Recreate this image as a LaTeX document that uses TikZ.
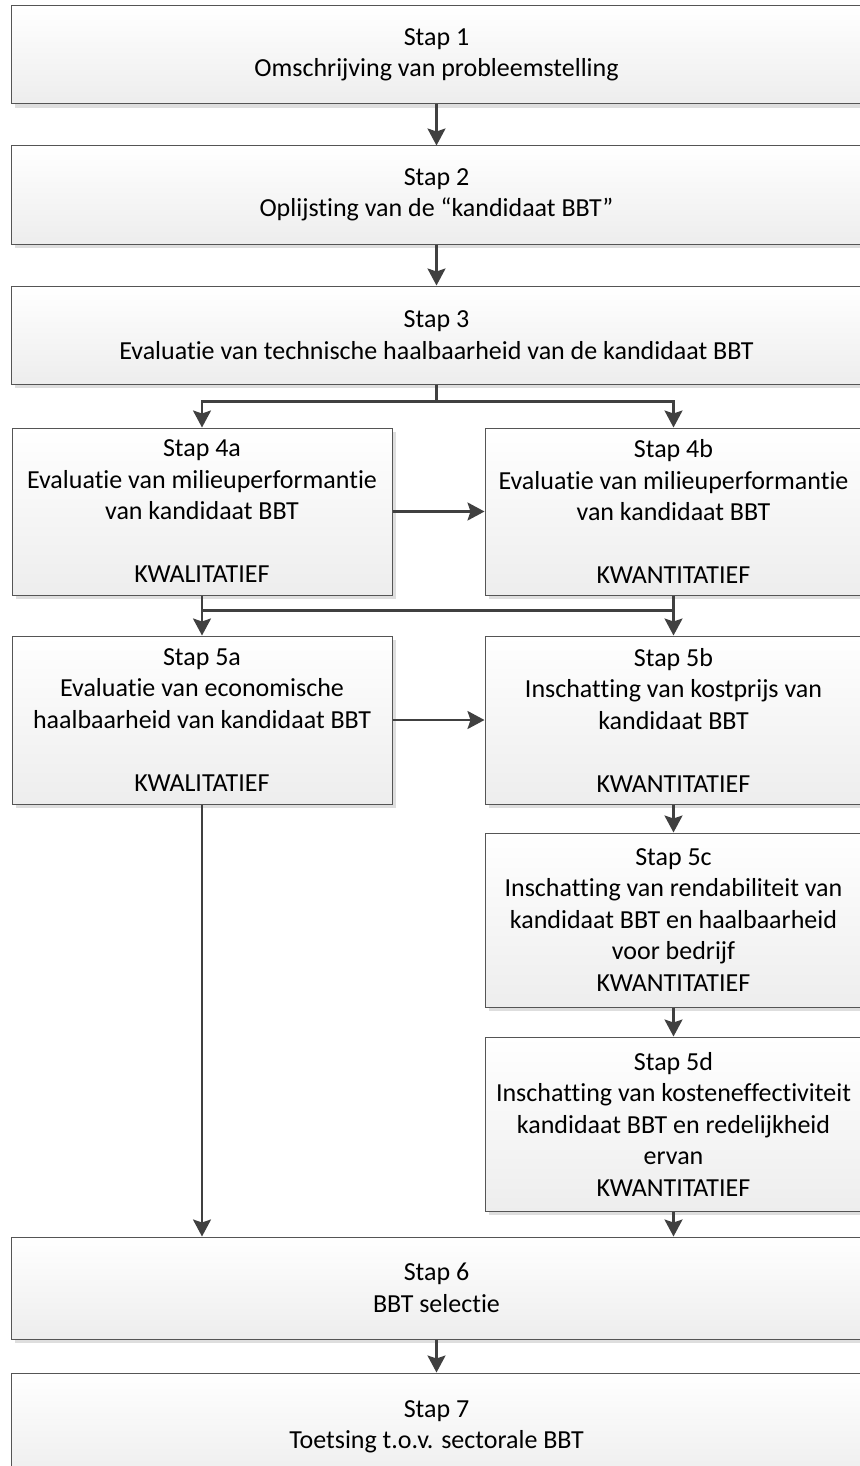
\documentclass[tikz,border=0pt]{standalone}
\usepackage{fontspec}
\setmainfont{Carlito}[Ligatures=CommonOff]
\usetikzlibrary{arrows.meta,shadows,calc}
\definecolor{bordc}{RGB}{85,85,85}
\definecolor{arrc}{RGB}{64,64,64}
\definecolor{shadc}{RGB}{222,222,222}
\begin{document}
\begin{tikzpicture}[x=1pt,y=-1pt,
  box/.style={draw=bordc, line width=1pt, top color=white, bottom color=black!7,
    drop shadow={shadow xshift=4pt, shadow yshift=-4pt, fill=shadc, opacity=1},
    inner sep=0pt, align=center, font=\fontsize{26}{31.5}\selectfont},
  wide/.style={box, minimum width=851pt},
  side/.style={box, minimum width=380pt},
  arr/.style={draw=arrc, line width=2.4pt, -{Stealth[length=17pt,width=18pt,inset=3pt]}},
  ln/.style={draw=arrc, line width=2.4pt}]
\useasboundingbox (0,0) rectangle (859,1466);
\node[wide, minimum height=98pt] (b1) at (436.5,55) {Stap 1\\Omschrijving van probleemstelling};
\node[wide, minimum height=98pt] (b2) at (436.5,195) {Stap 2\\Oplijsting van de “kandidaat BBT”};
\node[wide, minimum height=98pt] (b3) at (436.5,335) {Stap 3\\Evaluatie van technische haalbaarheid van de kandidaat BBT};
\node[side, minimum height=167pt] (b4a) at (202,511.5) {Stap 4a\\Evaluatie van milieuperformantie\\van kandidaat BBT\\[31.5pt]KWALITATIEF};
\node[side, minimum width=377pt, minimum height=167pt] (b4b) at (673.5,511.5) {Stap 4b\\Evaluatie van milieuperformantie\\van kandidaat BBT\\[31.5pt]KWANTITATIEF};
\node[side, minimum height=168pt] (b5a) at (202,720) {Stap 5a\\Evaluatie van economische\\haalbaarheid van kandidaat BBT\\[31.5pt]KWALITATIEF};
\node[side, minimum width=377pt, minimum height=168pt] (b5b) at (673.5,720) {Stap 5b\\Inschatting van kostprijs van\\kandidaat BBT\\[31.5pt]KWANTITATIEF};
\node[side, minimum width=377pt, minimum height=174pt] (b5c) at (673.5,920) {Stap 5c\\Inschatting van rendabiliteit van\\kandidaat BBT en haalbaarheid\\voor bedrijf\\KWANTITATIEF};
\node[side, minimum width=377pt, minimum height=174pt] (b5d) at (673.5,1124) {Stap 5d\\Inschatting van kosteneffectiviteit\\kandidaat BBT en redelijkheid\\ervan\\KWANTITATIEF};
\node[wide, minimum height=102pt] (b6) at (436.5,1288) {Stap 6\\BBT selectie};
\node[wide, minimum height=108pt] (b7) at (436.5,1427) {Stap 7\\Toetsing t.o.v. sectorale BBT};
% connectors
\draw[arr] (b1) -- (b2);
\draw[arr] (b2) -- (b3);
\draw[ln] (b3.south) -- ++(0,17) coordinate (j3);
\draw[arr] (j3) -| (b4a.north);
\draw[arr] (j3) -| (b4b.north);
\draw[arr] (b4a) -- (b4b);
\coordinate (j4a) at ($(b4a.south)+(0,15)$);
\coordinate (j4b) at ($(b4b.south)+(0,15)$);
\draw[arr] (b4a.south) -- (b5a.north);
\draw[arr] (b4b.south) -- (b5b.north);
\draw[ln] (j4a) -- (j4b);
\draw[arr] (b5a) -- (b5b);
\draw[arr] (b5b) -- (b5c);
\draw[arr] (b5c) -- (b5d);
\draw[arr] (b5a.south) -- (b5a.south |- b6.north);
\draw[arr] (b5d.south) -- (b5d.south |- b6.north);
\draw[arr] (b6) -- (b7);
\end{tikzpicture}
\end{document}
